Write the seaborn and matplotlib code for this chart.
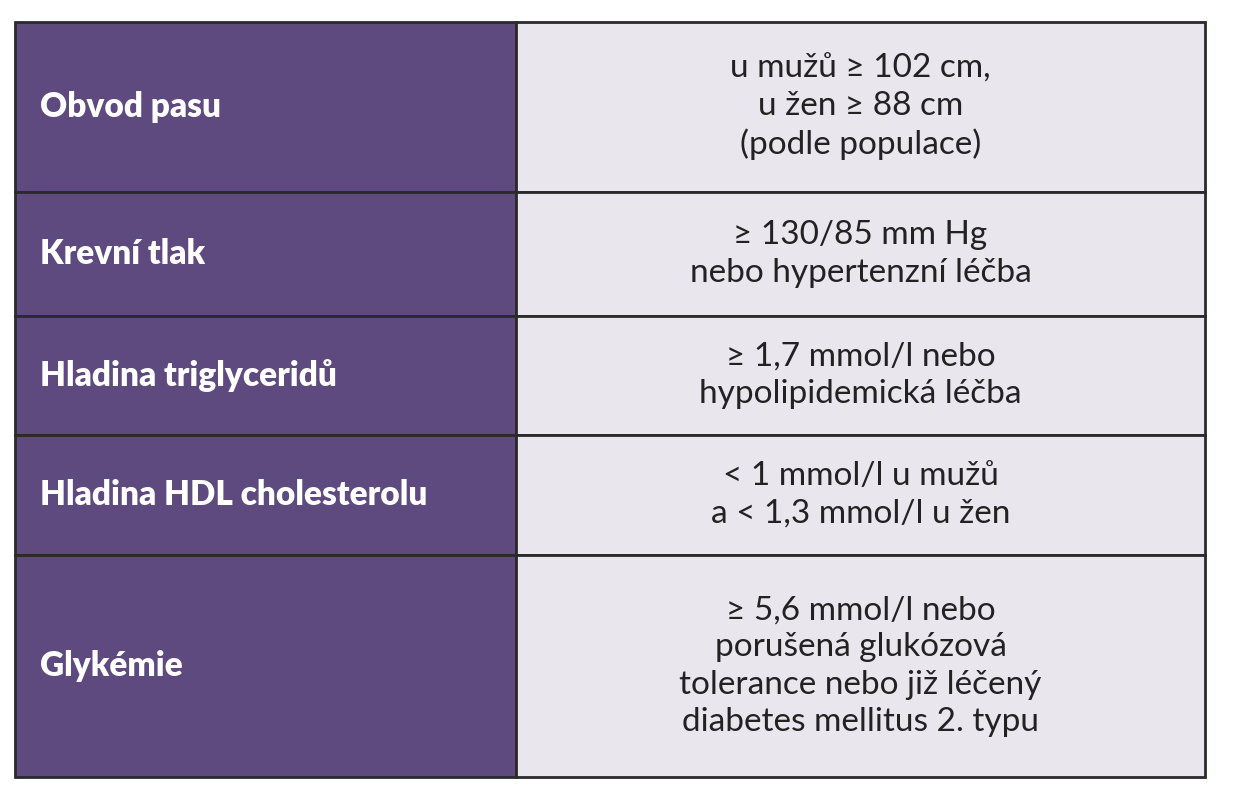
import matplotlib
matplotlib.use("Agg")
import matplotlib.pyplot as plt
import seaborn as sns
from matplotlib.patches import Rectangle

sns.set_theme(style="white")
plt.rcParams['font.family'] = ['Lato', 'DejaVu Sans']

criteria = ["Obvod pasu", "Krevní tlak", "Hladina triglyceridů",
            "Hladina HDL cholesterolu", "Glykémie"]
thresholds = ["u mužů ≥ 102 cm,\nu žen ≥ 88 cm\n(podle populace)",
              "≥ 130/85 mm Hg\nnebo hypertenzní léčba",
              "≥ 1,7 mmol/l nebo\nhypolipidemická léčba",
              "< 1 mmol/l u mužů\na < 1,3 mmol/l u žen",
              "≥ 5,6 mmol/l nebo\nporušená glukózová\ntolerance nebo již léčený\ndiabetes mellitus 2. typu"]
row_edges = [22, 192, 316, 435, 555, 777]

W, H = 1233, 800
fig = plt.figure(figsize=(W/100, H/100), dpi=100)
ax = fig.add_axes([0, 0, 1, 1])
ax.set_xlim(0, W); ax.set_ylim(H, 0); ax.axis("off")
x0, xm, x1 = 15, 516, 1205
purple, grey, edge = "#5f4a80", "#e9e7ed", "#2a2a2a"
for i, (c, t) in enumerate(zip(criteria, thresholds)):
    y0, y1 = row_edges[i], row_edges[i+1]
    ax.add_patch(Rectangle((x0, y0), xm-x0, y1-y0, facecolor=purple, edgecolor=edge, lw=2))
    ax.add_patch(Rectangle((xm, y0), x1-xm, y1-y0, facecolor=grey, edgecolor=edge, lw=2))
    ax.text(40, (y0+y1)/2, c, color="white", fontsize=24, fontweight="heavy", va="center", ha="left")
    ax.text((xm+x1)/2, (y0+y1)/2, t, color="#222222", fontsize=24, va="center", ha="center",
            linespacing=1.3)
fig.savefig("out.png", dpi=100)
